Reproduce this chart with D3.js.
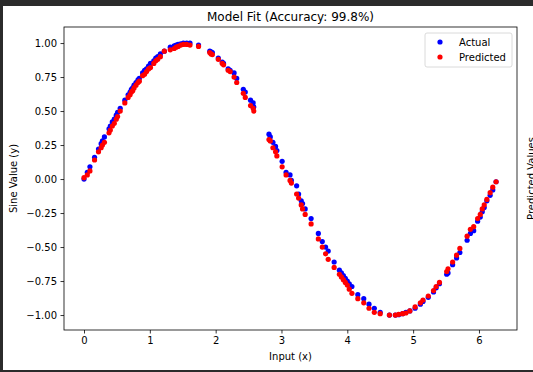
<!DOCTYPE html>
<html>
<head>
<meta charset="utf-8">
<script src="https://cdn.jsdelivr.net/npm/d3@7"></script>
<style>
  body { margin: 0; background: #2b2b2b; }
  text { font-family: "DejaVu Sans", sans-serif; fill: #000; }
</style>
</head>
<body>
<script>
// values
var xs = [0.00, 0.05, 0.09, 0.16, 0.22, 0.26, 0.28, 0.31, 0.38, 0.40, 0.43, 0.46, 0.49, 0.51, 0.55,
  0.62, 0.67, 0.70, 0.72, 0.74, 0.76, 0.79, 0.82, 0.84, 0.89, 0.92, 0.95, 0.98, 1.01, 1.06,
  1.09, 1.12, 1.16, 1.22, 1.31, 1.37, 1.40, 1.43, 1.47, 1.51, 1.56, 1.61, 1.74, 1.91, 1.93,
  1.95, 2.04, 2.10, 2.12, 2.19, 2.22, 2.28, 2.32, 2.42, 2.45, 2.53, 2.57, 2.58, 2.81, 2.83,
  2.87, 2.91, 2.93, 3.01, 3.07, 3.13, 3.15, 3.23, 3.26, 3.30, 3.32, 3.36, 3.45, 3.56, 3.62,
  3.67, 3.71, 3.80, 3.88, 3.91, 3.94, 3.97, 4.00, 4.03, 4.07, 4.16, 4.25, 4.33, 4.41, 4.50,
  4.64, 4.73, 4.78, 4.84, 4.89, 4.95, 5.03, 5.11, 5.15, 5.23, 5.31, 5.35, 5.40, 5.51, 5.53,
  5.60, 5.66, 5.71, 5.82, 5.87, 5.92, 5.98, 6.02, 6.05, 6.08, 6.12, 6.17, 6.21, 6.26];

var actual = [0.00, 0.05, 0.09, 0.16, 0.22, 0.26, 0.28, 0.31, 0.37, 0.39, 0.42, 0.44, 0.47, 0.49, 0.52,
  0.58, 0.62, 0.64, 0.66, 0.67, 0.69, 0.71, 0.73, 0.74, 0.78, 0.80, 0.81, 0.83, 0.85, 0.87,
  0.89, 0.90, 0.92, 0.94, 0.97, 0.98, 0.985, 0.99, 0.995, 1.00, 1.00, 1.00, 0.985, 0.94, 0.935,
  0.93, 0.89, 0.86, 0.85, 0.81, 0.80, 0.78, 0.74, 0.66, 0.64, 0.58, 0.56, 0.53, 0.33, 0.31,
  0.27, 0.24, 0.21, 0.13, 0.05, 0.03, -0.01, -0.05, -0.11, -0.16, -0.18, -0.22, -0.29, -0.40, -0.46,
  -0.50, -0.53, -0.61, -0.67, -0.69, -0.71, -0.73, -0.75, -0.77, -0.79, -0.85, -0.88, -0.92, -0.95, -0.98,
  -1.00, -1.00, -0.998, -0.99, -0.98, -0.97, -0.95, -0.92, -0.90, -0.87, -0.83, -0.80, -0.77, -0.70, -0.69,
  -0.63, -0.58, -0.54, -0.45, -0.40, -0.38, -0.31, -0.28, -0.24, -0.21, -0.16, -0.12, -0.08, -0.02];

var predicted = [0.01, 0.03, 0.06, 0.14, 0.20, 0.23, 0.25, 0.27, 0.34, 0.36, 0.39, 0.41, 0.44, 0.46, 0.50,
  0.56, 0.60, 0.62, 0.64, 0.65, 0.67, 0.69, 0.71, 0.72, 0.76, 0.77, 0.79, 0.81, 0.82, 0.85,
  0.87, 0.88, 0.90, 0.94, 0.95, 0.96, 0.97, 0.975, 0.985, 0.99, 0.99, 0.985, 0.975, 0.93, 0.92,
  0.915, 0.88, 0.85, 0.84, 0.80, 0.79, 0.75, 0.71, 0.63, 0.60, 0.54, 0.52, 0.50, 0.29, 0.28,
  0.23, 0.20, 0.17, 0.09, 0.03, -0.01, -0.03, -0.11, -0.14, -0.19, -0.22, -0.26, -0.33, -0.44, -0.50,
  -0.55, -0.59, -0.65, -0.70, -0.72, -0.74, -0.76, -0.78, -0.81, -0.84, -0.88, -0.91, -0.95, -0.98, -0.99,
  -1.00, -1.00, -0.995, -0.99, -0.985, -0.97, -0.94, -0.91, -0.89, -0.86, -0.82, -0.79, -0.76, -0.68, -0.66,
  -0.61, -0.56, -0.51, -0.42, -0.37, -0.35, -0.29, -0.26, -0.22, -0.19, -0.15, -0.10, -0.06, -0.02];

var xTicks = [0, 1, 2, 3, 4, 5, 6];
var yTicks = [-1.00, -0.75, -0.50, -0.25, 0.00, 0.25, 0.50, 0.75, 1.00];

var svg_width = 533;
var svg_height = 372;

var margin = { top: 27, right: 16, bottom: 42, left: 64 };
var plotRight = svg_width - margin.right;
var plotBottom = svg_height - margin.bottom;

var svg = d3.select("body")
  .append("svg")
  .attr("width", svg_width)
  .attr("height", svg_height)
  .style("display", "block");

// dark screenshot frame and white figure
svg.append("rect")
  .attr("width", svg_width).attr("height", svg_height)
  .attr("fill", "#2b2b2b");
svg.append("rect")
  .attr("x", 3).attr("y", 6)
  .attr("width", svg_width - 3).attr("height", 364)
  .attr("fill", "#ffffff");

var xScale = d3.scaleLinear().domain([-0.304, 6.578]).range([margin.left, plotRight]);
var yScale = d3.scaleLinear().domain([-1.110, 1.118]).range([plotBottom, margin.top]);

var fmtY = function(d) { return d3.format(".2f")(d).replace("-", "\u2212"); };

var bottomAxis = d3.axisBottom(xScale).tickValues(xTicks).tickSize(3.5).tickPadding(3.5).tickFormat(d3.format("d"));
var leftAxis = d3.axisLeft(yScale).tickValues(yTicks).tickSize(3.5).tickPadding(3.5).tickFormat(fmtY);

var xAxisG = svg.append("g")
  .attr("transform", `translate(0, ${plotBottom})`)
  .call(bottomAxis);
var yAxisG = svg.append("g")
  .attr("transform", `translate(${margin.left}, 0)`)
  .call(leftAxis);

[xAxisG, yAxisG].forEach(function(g) {
  g.select(".domain").remove();
  g.selectAll(".tick line").attr("stroke", "#000").attr("stroke-width", 0.8);
  g.selectAll(".tick text").style("font-size", "10px").style("font-family", "DejaVu Sans").attr("fill", "#000");
});

// points: actual first, predicted on top
var pts = xs.map(function(x, i) { return { x: x, a: actual[i], p: predicted[i] }; });

svg.append("g").selectAll("circle")
  .data(pts)
  .enter()
  .append("circle")
  .attr("cx", d => xScale(d.x))
  .attr("cy", d => yScale(d.a))
  .attr("r", 2.6)
  .attr("fill", "#0000ff");

svg.append("g").selectAll("circle")
  .data(pts)
  .enter()
  .append("circle")
  .attr("cx", d => xScale(d.x))
  .attr("cy", d => yScale(d.p))
  .attr("r", 2.6)
  .attr("fill", "#ff0000");

// axes frame
svg.append("rect")
  .attr("x", margin.left).attr("y", margin.top)
  .attr("width", plotRight - margin.left).attr("height", plotBottom - margin.top)
  .attr("fill", "none")
  .attr("stroke", "#000")
  .attr("stroke-width", 0.8);

// title and labels
svg.append("text")
  .attr("x", (margin.left + plotRight) / 2)
  .attr("y", 21)
  .attr("text-anchor", "middle")
  .style("font-size", "12px")
  .text("Model Fit (Accuracy: 99.8%)");

svg.append("text")
  .attr("x", (margin.left + plotRight) / 2)
  .attr("y", 360)
  .attr("text-anchor", "middle")
  .style("font-size", "10px")
  .text("Input (x)");

svg.append("text")
  .attr("transform", `translate(17, ${(margin.top + plotBottom) / 2}) rotate(-90)`)
  .attr("text-anchor", "middle")
  .style("font-size", "10px")
  .text("Sine Value (y)");

svg.append("text")
  .attr("transform", `translate(535, ${(margin.top + plotBottom) / 2}) rotate(-90)`)
  .attr("text-anchor", "middle")
  .style("font-size", "10px")
  .text("Predicted Values");

// legend
var legend = svg.append("g").attr("transform", "translate(425, 33)");
legend.append("rect")
  .attr("width", 87).attr("height", 34)
  .attr("rx", 2)
  .attr("fill", "#fff")
  .attr("fill-opacity", 0.8)
  .attr("stroke", "#d0d0d0")
  .attr("stroke-width", 0.8);

var legendItems = [{ name: "Actual", color: "#0000ff" }, { name: "Predicted", color: "#ff0000" }];
legendItems.forEach(function(item, i) {
  legend.append("circle")
    .attr("cx", 15).attr("cy", 9 + i * 15)
    .attr("r", 2.6)
    .attr("fill", item.color);
  legend.append("text")
    .attr("x", 34).attr("y", 12.5 + i * 15)
    .style("font-size", "10px")
    .text(item.name);
});
</script>
</body>
</html>
